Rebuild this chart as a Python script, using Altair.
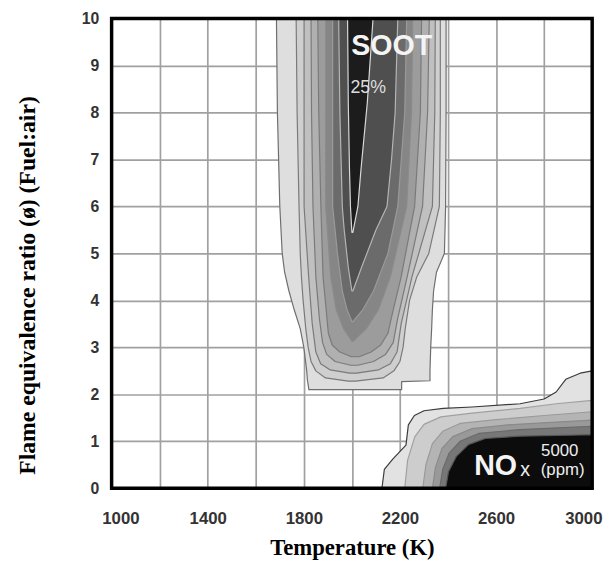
import altair as alt
import pandas as pd

# ---------------- data ----------------
T_DOMAIN = [1000, 3000]
PHI_DOMAIN = [0, 10]
X_GRID = list(range(1000, 3001, 200))
Y_GRID = list(range(0, 11))

# Soot contour bands (outer -> inner): equivalence ratio and left/right temperature bounds
SOOT_PHI = [
    [2.10, 2.27, 2.29, 2.5, 3.0, 3.4, 3.8, 4.2, 4.6, 5.0, 6.0, 8.0, 10.0],
    [2.28, 2.35, 2.5, 2.7, 3.0, 3.4, 4.0, 4.5, 5.0, 6.0, 8.0, 10.0],
    [2.45, 2.52, 2.65, 2.9, 3.5, 4.5, 6.0, 8.0, 10.0],
    [2.62, 2.70, 2.85, 3.1, 3.6, 4.5, 6.0, 8.0, 10.0],
    [2.80, 2.90, 3.05, 3.3, 3.8, 4.5, 6.0, 8.0, 10.0],
    [3.13, 3.4, 3.8, 4.5, 6.0, 8.0, 10.0],
    [3.55, 3.8, 4.2, 5.0, 6.0, 8.0, 10.0],
    [4.20, 4.7, 5.5, 6.0, 7.0, 8.0, 10.0],
    [5.45, 6.0, 6.8, 8.2, 10.0],
]
SOOT_T_LEFT = [
    [1821, 1816, 1815, 1812, 1800, 1785, 1760, 1738, 1720, 1710, 1700, 1690, 1686],
    [1985, 1890, 1850, 1830, 1818, 1808, 1797, 1790, 1785, 1780, 1772, 1768],
    [1990, 1910, 1870, 1850, 1835, 1820, 1801, 1801, 1801],
    [1995, 1930, 1895, 1878, 1865, 1850, 1838, 1832, 1830],
    [1998, 1950, 1918, 1902, 1893, 1880, 1871, 1862, 1858],
    [2000, 1965, 1935, 1912, 1891, 1891, 1891],
    [2000, 1980, 1960, 1940, 1920, 1920, 1920],
    [2000, 1985, 1968, 1960, 1955, 1950, 1945],
    [2000, 1994, 1990, 1985, 1982],
]
SOOT_T_RIGHT = [
    [2207, 2207, 2325, 2325, 2328, 2332, 2335, 2340, 2352, 2385, 2390, 2392, 2392],
    [2015, 2130, 2175, 2200, 2213, 2222, 2240, 2270, 2320, 2364, 2368, 2368],
    [2020, 2110, 2160, 2188, 2205, 2250, 2335, 2345, 2347],
    [2025, 2090, 2140, 2172, 2190, 2230, 2294, 2315, 2322],
    [2030, 2080, 2120, 2150, 2172, 2205, 2261, 2285, 2290],
    [2005, 2060, 2110, 2160, 2228, 2248, 2253],
    [2004, 2045, 2090, 2150, 2191, 2220, 2228],
    [2004, 2040, 2100, 2146, 2165, 2180, 2191],
    [2004, 2025, 2038, 2064, 2088],
]
SOOT_FILL = ["#dedede", "#cfcfcf", "#c0c0c0", "#b0b0b0", "#9c9c9c",
             "#868686", "#6b6b6b", "#4f4f4f", "#1c1c1c"]
SOOT_LINE = ["#6e6e6e", "#7a7a7a", "#7a7a7a", "#7a7a7a", "#7a7a7a",
             "#8a8a8a", "#9a9a9a", "#b5b5b5", "#d8d8d8"]

# NOx contour bands (outer -> inner): upper equivalence ratio bound vs temperature
NOX_T = [
    [2125, 2135, 2170, 2225, 2235, 2260, 2300, 2380, 2500, 2700, 2800, 2850, 2890, 2950, 3000],
    [2220, 2232, 2262, 2300, 2370, 2500, 2700, 2850, 3000],
    [2295, 2308, 2335, 2380, 2450, 2600, 2800, 3000],
    [2335, 2348, 2375, 2420, 2500, 2650, 2850, 3000],
    [2365, 2378, 2405, 2450, 2530, 2700, 3000],
    [2390, 2402, 2435, 2485, 2555, 2700, 3000],
]
NOX_PHI = [
    [0.0, 0.40, 0.62, 0.92, 1.35, 1.55, 1.65, 1.70, 1.73, 1.80, 1.90, 2.05, 2.32, 2.45, 2.50],
    [0.0, 0.60, 1.10, 1.36, 1.52, 1.60, 1.70, 1.80, 1.87],
    [0.0, 0.50, 0.95, 1.22, 1.38, 1.46, 1.55, 1.63],
    [0.0, 0.45, 0.85, 1.10, 1.27, 1.35, 1.41, 1.45],
    [0.0, 0.40, 0.75, 1.00, 1.17, 1.25, 1.32],
    [0.0, 0.35, 0.68, 0.93, 1.06, 1.11, 1.14],
]
NOX_FILL = ["#e2e2e2", "#cdcdcd", "#b4b4b4", "#999999", "#777777", "#0c0c0c"]
NOX_LINE = ["#3a3a3a", "#a0a0a0", "#9a9a9a", "#8a8a8a", "#6a6a6a", "#555555"]

# annotations
ANN_TEXT = ["SOOT", "25%", "NO", "x", "5000", "(ppm)"]
ANN_T = [2166, 2068, 2598, 2721, 2865, 2877]
ANN_PHI = [9.41, 8.51, 0.48, 0.38, 0.80, 0.38]
ANN_SIZE = [29, 18, 29, 20, 17, 17]
ANN_WEIGHT = ["bold", "normal", "bold", "normal", "normal", "normal"]
ANN_COLOR = ["#f4f4f4", "#dddddd", "#f4f4f4", "#eeeeee", "#eeeeee", "#eeeeee"]

# ---------------- chart ----------------
x_scale = alt.Scale(domain=T_DOMAIN, nice=False, zero=False)
y_scale = alt.Scale(domain=PHI_DOMAIN, nice=False)

x_axis = alt.Axis(
    values=X_GRID, format="d",
    labelExpr="datum.value % 400 == 200 ? datum.label : ''",
    title="Temperature (K)", titleFont="Liberation Serif", titleFontSize=23,
    titleFontWeight="bold", titleColor="black", titlePadding=10,
    labelFont="Liberation Sans", labelFontSize=17, labelFontWeight="bold",
    labelColor="#333333", labelPadding=23, labelFlush=True, labelFlushOffset=10,
    ticks=False, tickSize=0, domain=False,
    grid=True, gridColor="#a0a0a0", gridWidth=1.7, gridOpacity=1,
)
y_axis = alt.Axis(
    values=Y_GRID, format="d",
    title="Flame equivalence ratio (ø) (Fuel:air)", titleFont="Liberation Serif",
    titleFontSize=24, titleFontWeight="bold", titleColor="black",
    titleX=-85, titleY=270, titleBaseline="middle",
    labelFont="Liberation Sans", labelFontSize=16, labelFontWeight="bold",
    labelColor="#333333", labelPadding=13,
    ticks=False, tickSize=0, domain=False,
    grid=True, gridColor="#a0a0a0", gridWidth=1.7, gridOpacity=1,
)


def X(field):
    return alt.X(field, type="quantitative", scale=x_scale, axis=x_axis)


def Y(field):
    return alt.Y(field, type="quantitative", scale=y_scale, axis=y_axis)


layers = []

# frame / grid base
base_df = pd.DataFrame({"T": [T_DOMAIN[0]], "phi": [PHI_DOMAIN[0]]})
layers.append(
    alt.Chart(base_df).mark_point(opacity=0).encode(x=X("T"), y=Y("phi"))
)

for phis, tl, tr, fill, line in zip(SOOT_PHI, SOOT_T_LEFT, SOOT_T_RIGHT, SOOT_FILL, SOOT_LINE):
    df = pd.DataFrame({"phi": phis, "tl": tl, "tr": tr})
    layers.append(
        alt.Chart(df).mark_area(orient="horizontal", fill=fill, stroke=line,
                                strokeWidth=1.2, strokeJoin="round")
        .encode(y=Y("phi"), x=X("tl"), x2="tr")
    )

for ts, phis, fill, line in zip(NOX_T, NOX_PHI, NOX_FILL, NOX_LINE):
    df = pd.DataFrame({"T": ts, "phi": phis})
    layers.append(
        alt.Chart(df).mark_area(fill=fill, stroke=line, strokeWidth=1.2,
                                strokeJoin="round")
        .encode(x=X("T"), y=Y("phi"))
    )

for txt, t, p, s, w, c in zip(ANN_TEXT, ANN_T, ANN_PHI, ANN_SIZE, ANN_WEIGHT, ANN_COLOR):
    df = pd.DataFrame({"T": [t], "phi": [p], "label": [txt]})
    layers.append(
        alt.Chart(df).mark_text(font="Liberation Sans", fontSize=s, fontWeight=w,
                                color=c, align="center", baseline="middle")
        .encode(x=X("T"), y=Y("phi"), text="label:N")
    )

# thick frame on top
frame_df = pd.DataFrame({"t0": [T_DOMAIN[0]], "t1": [T_DOMAIN[1]],
                         "p0": [PHI_DOMAIN[0]], "p1": [PHI_DOMAIN[1]]})
layers.append(
    alt.Chart(frame_df).mark_rect(filled=False, stroke="black", strokeWidth=3.5)
    .encode(x=X("t0"), x2="t1", y=Y("p0"), y2="p1")
)

chart = (
    alt.layer(*layers)
    .properties(
        width=487, height=476,
        autosize=alt.AutoSizeParams(type="none"),
        padding={"left": 105, "top": 7, "right": 13, "bottom": 72},
        background="white",
    )
    .configure_view(stroke=None)
)

chart.save("out.html", embed_options={"renderer": "svg", "actions": False})
